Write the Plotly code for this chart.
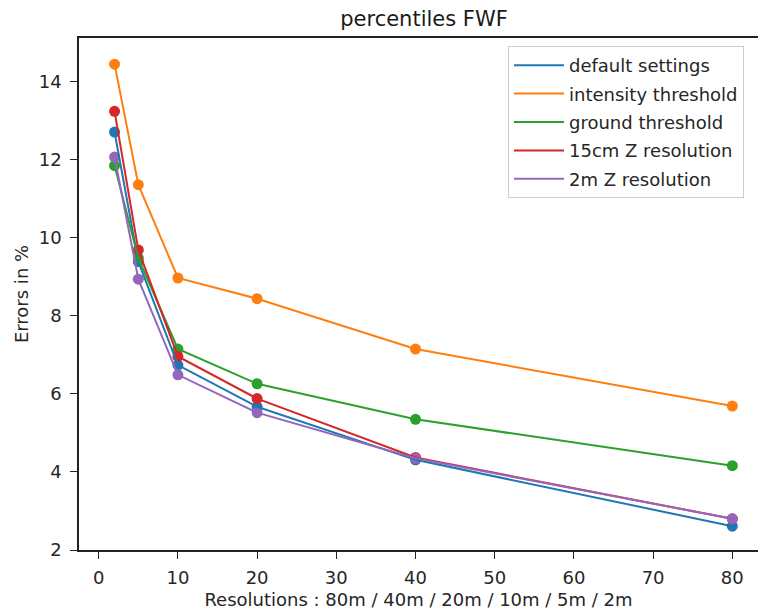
import plotly.graph_objects as go

resolutions = [2, 5, 10, 20, 40, 80]
default_settings = [12.71, 9.39, 6.74, 5.67, 4.31, 2.61]
intensity_threshold = [14.45, 11.36, 8.97, 8.44, 7.15, 5.69]
ground_threshold = [11.85, 9.48, 7.15, 6.26, 5.35, 4.16]
z15cm = [13.24, 9.69, 6.96, 5.88, 4.37, 2.80]
z2m = [12.07, 8.94, 6.49, 5.52, 4.35, 2.80]

series_names = ["default settings", "intensity threshold", "ground threshold",
                "15cm Z resolution", "2m Z resolution"]
series_values = [default_settings, intensity_threshold, ground_threshold, z15cm, z2m]
colors = ["#1f77b4", "#ff7f0e", "#2ca02c", "#d62728", "#9467bd"]

fig = go.Figure()
for i, (name, vals, col) in enumerate(zip(series_names, series_values, colors)):
    fig.add_trace(go.Scatter(
        x=resolutions, y=vals, mode="markers",
        marker=dict(color=col, size=11, line=dict(width=0)),
        showlegend=False, hoverinfo="skip", legendgroup=f"g{i}"))
for i, (name, vals, col) in enumerate(zip(series_names, series_values, colors)):
    fig.add_trace(go.Scatter(
        x=resolutions, y=vals, mode="lines", name=name,
        line=dict(color=col, width=2), legendgroup=f"g{i}"))

font_family = "DejaVu Sans"
fig.update_layout(
    template="none",
    width=758, height=615,
    margin=dict(l=79, r=0, t=38, b=65, autoexpand=False),
    paper_bgcolor="white", plot_bgcolor="white",
    font=dict(family=font_family, size=18, color="#262626"),
    title=dict(text="percentiles FWF", x=(424 - 79) / 679, xref="paper", xanchor="center",
               y=1 - 19 / 615, yref="container", yanchor="middle",
               font=dict(family=font_family, size=21, color="#1a1a1a")),
    legend=dict(x=(508 - 79) / 679, y=(550 - 46) / 512, xanchor="left", yanchor="top",
                bgcolor="rgba(255,255,255,0.85)", bordercolor="#cccccc", borderwidth=1,
                font=dict(family=font_family, size=18, color="#262626"),
                itemwidth=50, tracegroupgap=2, traceorder="grouped"),
    xaxis=dict(range=[-2.49, -2.49 + 679 / 7.92], tickvals=[0, 10, 20, 30, 40, 50, 60, 70, 80],
               showgrid=False, zeroline=False, showline=True, linecolor="#222", linewidth=1.5,
               mirror=True, ticks="outside", ticklen=7, tickwidth=1.3, tickcolor="#222",
               ticklabelstandoff=4, automargin=False,
               title=dict(text="Resolutions : 80m / 40m / 20m / 10m / 5m / 2m", standoff=6,
                          font=dict(size=18))),
    yaxis=dict(range=[2.0, 15.12], tickvals=[2, 4, 6, 8, 10, 12, 14],
               showgrid=False, zeroline=False, showline=True, linecolor="#222", linewidth=1.5,
               mirror=False, ticks="outside", ticklen=7, tickwidth=1.3, tickcolor="#222",
               ticklabelstandoff=5, automargin=False,
               title=dict(text="Errors in %", standoff=5, font=dict(size=18))),
)

fig.write_html("out.html")
